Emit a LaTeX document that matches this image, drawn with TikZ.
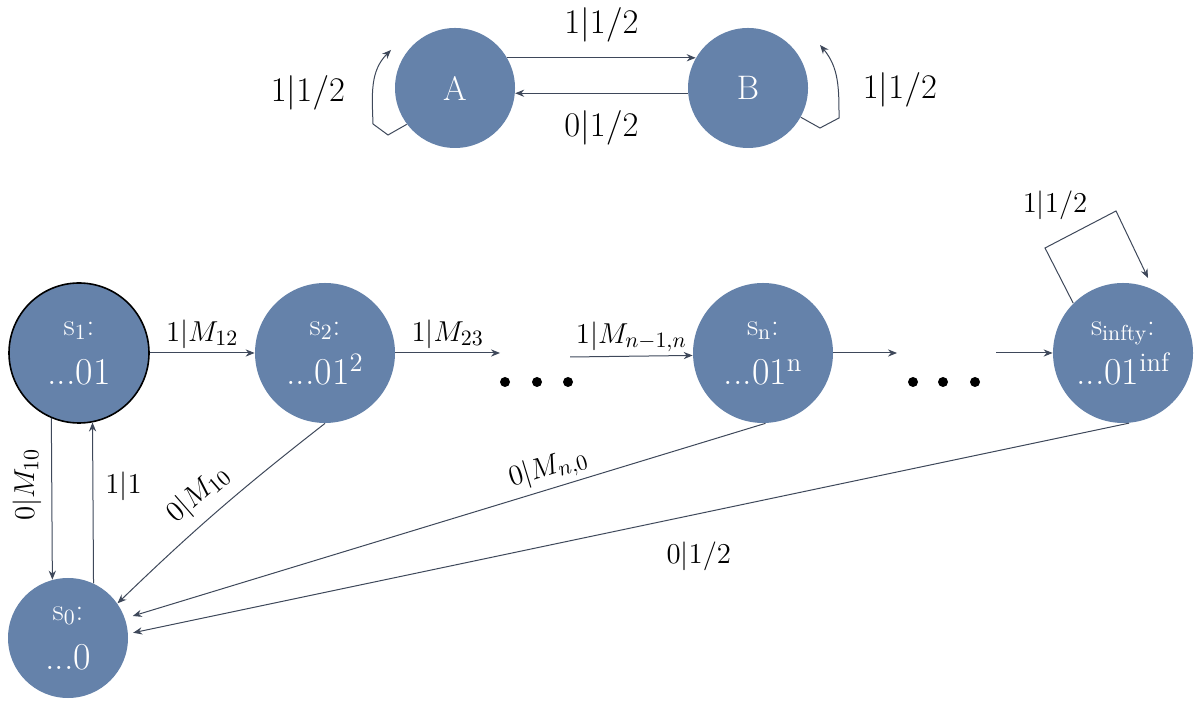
\documentclass[tikz,border=0pt]{standalone}
\usetikzlibrary{arrows.meta}
\definecolor{statefill}{RGB}{101,130,170}
\definecolor{edgecol}{RGB}{62,72,90}
\begin{document}
\begin{tikzpicture}[x=0.5pt,y=0.5pt,
  state/.style={circle, fill=statefill, text=white, inner sep=0pt, align=center,
    minimum size=70pt, font=\fontsize{19}{24.5}\selectfont},
  small state/.style={state, minimum size=60pt},
  top state/.style={circle, fill=statefill, text=white, inner sep=0pt,
    minimum size=60pt, font=\fontsize{17}{20}\selectfont},
  arr/.style={draw=edgecol, line width=0.5pt, -{Stealth[length=4.5pt,width=3.6pt]}},
  toplab/.style={font=\fontsize{17}{20}\selectfont},
  lab/.style={font=\fontsize{15}{18}\selectfont, inner sep=2pt},
  dot/.style={fill=black}
]
\useasboundingbox (0,0) rectangle (1202,700);

% two-state machine
\node[top state] (A) at (455,612) {A};
\node[top state] (B) at (748,612) {B};
\draw[arr] (A.30) -- (B.150) node[midway, toplab, yshift=16.5pt] {$1|1/2$};
\draw[arr] (B.185) -- (A.355) node[midway, toplab, yshift=-17.5pt] {$0|1/2$};
\draw[arr] (A.217) -- (388,565) -- (373,576) to[out=92,in=225] (391,650);
\node[toplab] (lA) at (308,607) {$1|1/2$};
\draw[arr] (B.-29) -- (820,572) -- (839,582) to[out=90,in=-50] (820,655);
\node[toplab] (lB) at (900,610) {$1|1/2$};

% chain of states
\node[state, draw=black, line width=0.8pt] (s1) at (79,347)
  {{\fontsize{15.5}{24.5}\selectfont s\textsubscript{1}:}\\...01};
\node[state] (s2) at (325,347)
  {{\fontsize{15.5}{24.5}\selectfont s\textsubscript{2}:}\\...01\textsuperscript{2}};
\node[state] (sn) at (763,347)
  {{\fontsize{15.5}{24.5}\selectfont s\textsubscript{n}:}\\...01\textsuperscript{n}};
\node[state] (sinf) at (1123,347)
  {{\fontsize{15.5}{24.5}\selectfont s\textsubscript{infty}:}\\...01\textsuperscript{inf}};
\node[small state] (s0) at (68,62)
  {{\fontsize{15.5}{24.5}\selectfont s\textsubscript{0}:}\\...0};

\coordinate (d1) at (500,347);
\coordinate (d2) at (570,343);
\coordinate (d3) at (897,347);
\coordinate (d4) at (996,347);

\draw[arr] (s1) -- (s2) node[midway, above, lab] {$1|M_{12}$};
\draw[arr] (s2) -- (d1) node[midway, above, lab] {$1|M_{23}$};
\draw[arr] (d2) -- (sn.182) node[midway, above, lab] {$1|M_{n-1,n}$};
\draw[arr] (sn) -- (d3);
\draw[arr] (d4) -- (sinf);

% ellipses between states
\foreach \x in {505,537,568,913,943,975} \fill[dot] (\x,318) circle (5);

% self-loop on s_infty
\draw[arr] (sinf.135) -- (1045,452) -- (1116,489) -- (1148,422);
\node[lab] (lInf) at (1055,495) {$1|1/2$};

% transitions to and from s0
\draw[arr] (s1.247) -- (s0.105)
  node[pos=0.41, rotate=90, anchor=south, lab, inner sep=5pt] {$0|M_{10}$};
\draw[arr] (s0.65) -- (s1.281.5)
  node[pos=0.6, right, lab, inner sep=6pt] {$1|1$};
\draw[arr] (s2.270) to[bend right=3]
  node[pos=0.52, sloped, above, lab, inner sep=5pt] {$0|M_{10}$} (s0.35);
\draw[arr, shorten >=4pt] (sn.272) --
  node[pos=0.33, sloped, above, lab] {$0|M_{n,0}$} (s0.19);
\draw[arr, shorten >=2.5pt] (sinf.275) --
  node[pos=0.43, below, lab, yshift=-12pt] {$0|1/2$} (s0.4);
\end{tikzpicture}
\end{document}
